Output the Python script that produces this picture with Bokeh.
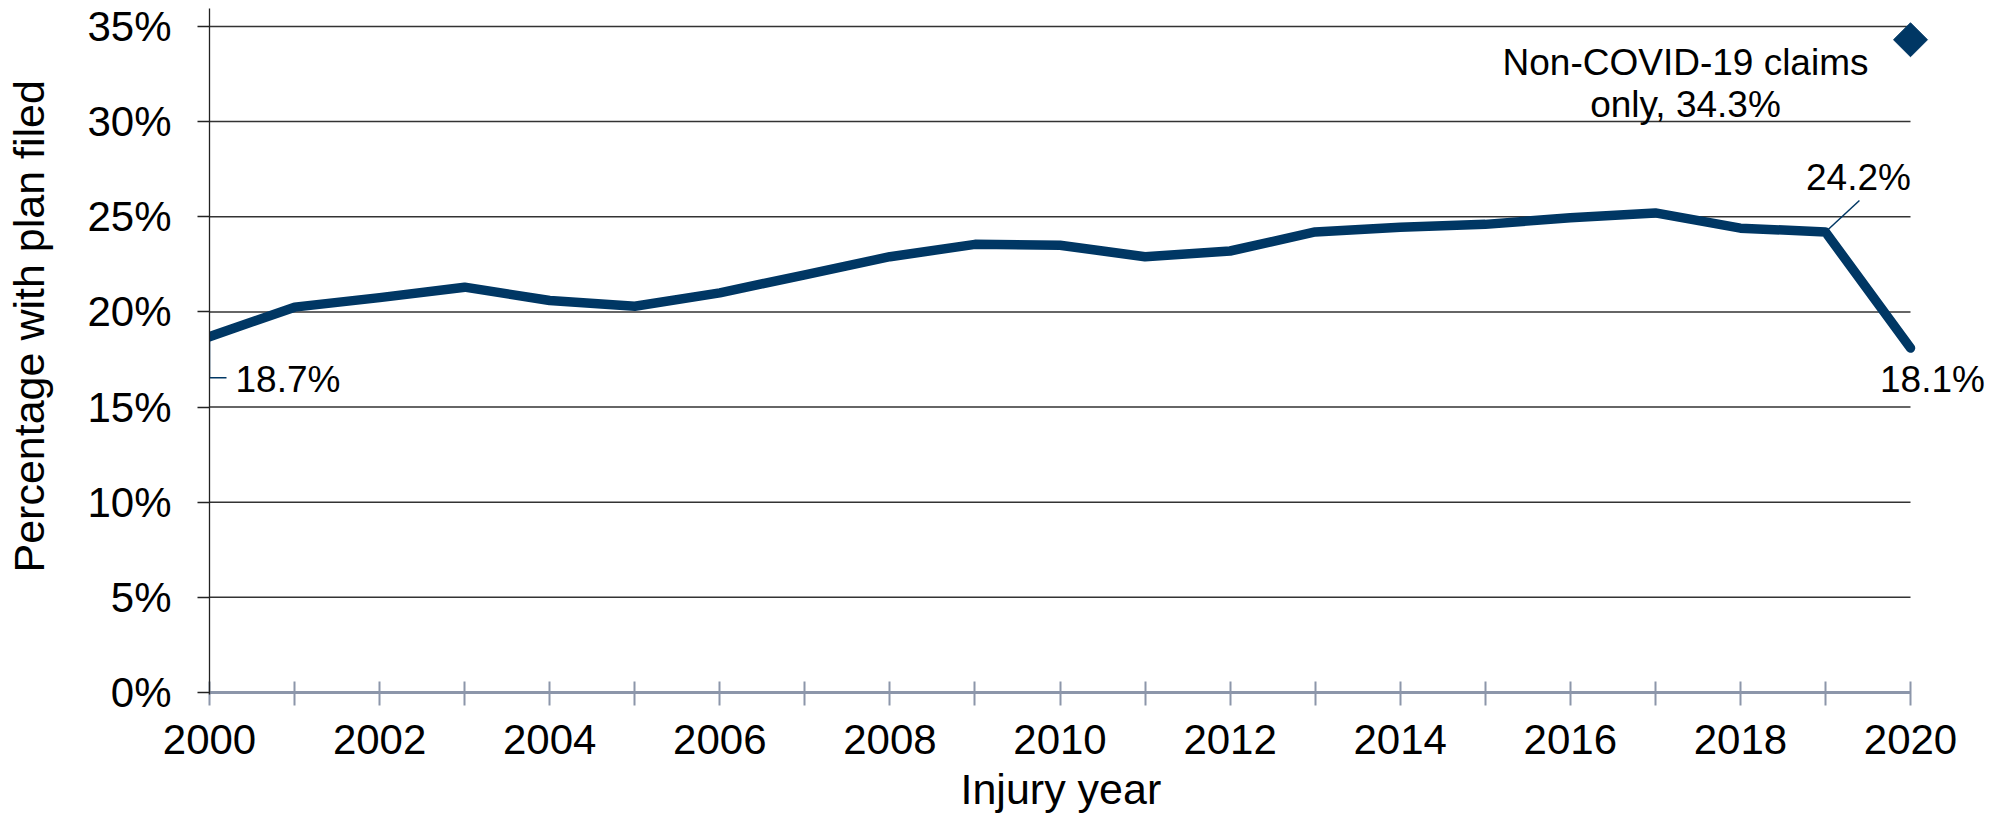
import math
from bokeh.plotting import figure
from bokeh.models import Range1d, FixedTicker, Label, PrintfTickFormatter, Title
from bokeh.embed import file_html
from bokeh.resources import INLINE

# ---------------- data ----------------
years = list(range(2000, 2021))
pct_with_plan = [18.7, 20.25, 20.75, 21.3, 20.6, 20.3, 21.0, 21.95, 22.9, 23.55,
                 23.5, 22.9, 23.2, 24.2, 24.45, 24.6, 24.95, 25.2, 24.4, 24.2, 18.1]
non_covid_year = [2020]
non_covid_pct = [34.3]
y_ticks = [0, 5, 10, 15, 20, 25, 30, 35]
x_label_years = [y for y in years if y % 2 == 0]
x_minor_years = [y for y in years if y % 2 == 1]

x_title = "Injury year"
y_title = "Percentage with plan filed"
label_first = "18.7%"
label_2019 = "24.2%"
label_last = "18.1%"
label_noncovid_1 = "Non-COVID-19 claims"
label_noncovid_2 = "only, 34.3%"

# ---------------- style ----------------
FONT = "Liberation Sans"
NAVY = "#003764"
AXIS_BLUE = "#8C96AA"
GRID = "#333333"

SHIFT = 30                      # canvas is pulled left by this many px (empty border only)
W, H = 2000 + SHIFT, 823
LEFT, RIGHT, TOP, BOTTOM = 209 + SHIFT, 15, 8, 129
FW = W - LEFT - RIGHT
FH = H - TOP - BOTTOM
PX_PER_YEAR = 85.05
PX_PER_PCT = 19.03
x_start = years[0]
x_end = x_start + FW / PX_PER_YEAR
y_start = -2 / PX_PER_PCT
y_end = y_start + FH / PX_PER_PCT

p = figure(width=W, height=H,
           x_range=Range1d(x_start, x_end), y_range=Range1d(y_start, y_end),
           output_backend="svg", toolbar_location=None,
           min_border_left=LEFT, min_border_right=RIGHT,
           min_border_top=TOP, min_border_bottom=BOTTOM,
           margin=(0, 0, 0, -SHIFT))
p.outline_line_color = None
p.background_fill_color = "white"
p.border_fill_color = "white"
p.xgrid.visible = False
p.ygrid.visible = False

# x axis
xa = p.xaxis[0]
xa.ticker = FixedTicker(ticks=x_label_years, minor_ticks=x_minor_years)
xa.axis_line_color = None
xa.major_tick_line_color = AXIS_BLUE
xa.major_tick_line_width = 2
xa.major_tick_in = 13
xa.major_tick_out = 11
xa.minor_tick_line_color = AXIS_BLUE
xa.minor_tick_line_width = 2
xa.minor_tick_in = 13
xa.minor_tick_out = 11
xa.major_label_standoff = 19
xa.major_label_text_font = FONT
xa.major_label_text_font_size = "42px"
xa.major_label_text_color = "black"

# y axis
ya = p.yaxis[0]
ya.ticker = FixedTicker(ticks=y_ticks, minor_ticks=[])
ya.formatter = PrintfTickFormatter(format="%d%%")
ya.axis_line_color = "#222222"
ya.axis_line_width = 1.3
ya.major_tick_line_color = "#222222"
ya.major_tick_line_width = 1.3
ya.major_tick_in = 0
ya.major_tick_out = 12
ya.minor_tick_line_color = None
ya.major_label_standoff = 26
ya.major_label_text_font = FONT
ya.major_label_text_font_size = "42px"
ya.major_label_text_color = "black"

# axis titles (side-panel titles, placed with an offset from the panel start)
p.add_layout(Title(text=x_title, align="left", offset=751, standoff=13,
                   text_font=FONT, text_font_size="43px", text_font_style="normal",
                   text_color="black"), "below")
p.add_layout(Title(text=y_title, align="left", offset=122, standoff=64,
                   text_font=FONT, text_font_size="43px", text_font_style="normal",
                   text_color="black"), "left")

# gridlines that stop at the last year
grid_levels = y_ticks[1:]
p.segment(x0=[years[0]] * len(grid_levels), y0=grid_levels,
          x1=[years[-1]] * len(grid_levels), y1=grid_levels,
          line_color=GRID, line_width=1.5)
# baseline (x-axis line) from first to last year
p.segment(x0=[years[0]], y0=[y_ticks[0]], x1=[years[-1]], y1=[y_ticks[0]],
          line_color=AXIS_BLUE, line_width=3)

# main series
p.line(years, pct_with_plan, line_color=NAVY, line_width=9.5,
       line_join="round", line_cap="round")
# non-COVID-only point
p.scatter(non_covid_year, non_covid_pct, marker="square", size=24,
          angle=math.pi / 4, fill_color=NAVY, line_color=NAVY)

# leader lines
dx = 1.0 / PX_PER_YEAR
dy = 1.0 / PX_PER_PCT
p.line([years[0], years[0], years[0] + 17 * dx],
       [pct_with_plan[0], pct_with_plan[0] - 41 * dy, pct_with_plan[0] - 41 * dy],
       line_color=NAVY, line_width=1.5)
p.line([years[-2], years[-2] + 34 * dx],
       [pct_with_plan[-2], pct_with_plan[-2] + 31.5 * dy],
       line_color=NAVY, line_width=1.5)

def lab(text, x, y, xo, yo, align, size="37px"):
    p.add_layout(Label(x=x, y=y, x_offset=xo, y_offset=yo, text=text,
                       text_align=align, text_baseline="alphabetic",
                       text_font=FONT, text_font_size=size, text_color="black"))

lab(label_first, years[0], pct_with_plan[0], 26, -43, "left")
lab(label_2019, years[-2], pct_with_plan[-2], 33, 54.5, "center")
lab(label_last, years[-1], pct_with_plan[-1], 22, -31.5, "center")
lab(label_noncovid_1, non_covid_year[0], non_covid_pct[0], -225, -23, "center")
lab(label_noncovid_2, non_covid_year[0], non_covid_pct[0], -225, -65, "center")

open("out.html", "w").write(file_html(p, INLINE))
